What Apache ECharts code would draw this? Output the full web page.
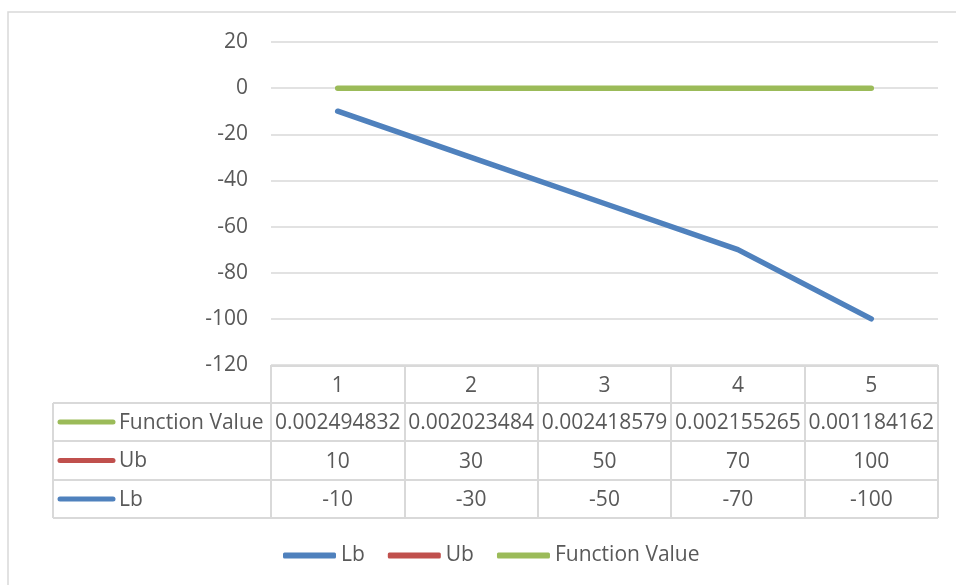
<!DOCTYPE html>
<html style="height:100%;">
<head>
    <meta charset="utf-8">
    <script src="https://cdn.jsdelivr.net/npm/echarts@6/dist/echarts.min.js"></script>
</head>
<body style="height:100%;margin:0;">
    <div id="main" style="width:956px;height:585px;"></div>
<script>
    // 数据
    var categories = ['1', '2', '3', '4', '5'];
    var lbData = [-10, -30, -50, -70, -100];
    var ubData = [10, 30, 50, 70, 100];
    var fvData = [0.002494832, 0.002023484, 0.002418579, 0.002155265, 0.001184162];
    var yTicks = {min: -120, max: 20, interval: 20};

    var txt = '#595959';
    var border = '#d9d9d9';
    var font = 'Open Sans';
    var fs = 21;
    var colors = {Lb: '#4f81bd', Ub: '#c0504d', 'Function Value': '#9bbb59'};

    // 表格（绘图区下方）
    var gridL = 271, gridR = 938, gridB = 365;
    var tabL = 53;
    var rowY = [366, 403, 441, 480, 518];
    var rowNames = ['Function Value', 'Ub', 'Lb'];

    function tableGraphics() {
        var g = [];
        // 外框
        g.push({type: 'rect', shape: {x: 8, y: 12, width: 1000, height: 700},
            style: {fill: null, stroke: border, lineWidth: 1.5}, silent: true});
        g.push({type: 'line', shape: {x1: gridL, y1: rowY[0], x2: gridR, y2: rowY[0]},
            style: {stroke: border, lineWidth: 2}});
        for (var i = 1; i < rowY.length; i++) {
            g.push({type: 'line', shape: {x1: tabL, y1: rowY[i], x2: gridR, y2: rowY[i]},
                style: {stroke: border, lineWidth: 2}});
        }
        g.push({type: 'line', shape: {x1: tabL, y1: rowY[1], x2: tabL, y2: rowY[4]},
            style: {stroke: border, lineWidth: 2}});
        rowNames.forEach(function (n, k) {
            var cy = (rowY[k + 1] + rowY[k + 2]) / 2;
            g.push({type: 'line', shape: {x1: 60, y1: cy, x2: 113, y2: cy},
                style: {stroke: colors[n], lineWidth: 5, lineCap: 'round'}});
            g.push({type: 'text', x: 119, y: cy + 1, style: {text: n, fill: txt,
                font: fs + 'px "' + font + '"', textVerticalAlign: 'middle'}});
        });
        return g;
    }

    function rowAxis(data, offset) {
        return {
            type: 'category', data: data, position: 'bottom', offset: offset,
            axisLine: {show: false, onZero: false}, axisTick: {show: false}, splitLine: {show: false},
            axisLabel: {color: txt, fontSize: fs, fontFamily: font, margin: 10, interval: 0}
        };
    }

    var chart = echarts.init(document.getElementById('main'));
    var option = {
        backgroundColor: '#FFFFFF',
        animation: false,
        color: [colors.Lb, colors.Ub, colors['Function Value']],
        grid: {left: gridL, right: 956 - gridR, top: 42, bottom: 585 - gridB, containLabel: false},
        legend: {
            left: 278, top: 540,
            icon: 'roundRect', itemWidth: 53, itemHeight: 6, itemGap: 23,
            textStyle: {color: txt, fontSize: fs, fontFamily: font},
            data: [
                {name: 'Lb'},
                {name: 'Ub', itemStyle: {opacity: 1}, lineStyle: {opacity: 1}},
                {name: 'Function Value'}
            ]
        },
        xAxis: [
            {
                type: 'category', data: categories, boundaryGap: true, position: 'bottom',
                axisLine: {show: false, onZero: false},
                axisTick: {show: true, inside: false, length: rowY[4] - gridB,
                    lineStyle: {color: border, width: 2}},
                axisLabel: {color: txt, fontSize: fs, fontFamily: font, margin: 11}
            },
            rowAxis(fvData.map(String), 38),
            rowAxis(ubData.map(String), 77),
            rowAxis(lbData.map(String), 115)
        ],
        yAxis: {
            type: 'value', min: yTicks.min, max: yTicks.max, interval: yTicks.interval,
            axisLine: {show: false}, axisTick: {show: false},
            axisLabel: {color: txt, fontSize: fs, fontFamily: font, margin: 23},
            splitLine: {lineStyle: {color: border, width: 1.5}}
        },
        series: [
            {name: 'Lb', type: 'line', data: lbData, symbol: 'none',
                lineStyle: {width: 5.5, cap: 'round', join: 'round', color: colors.Lb},
                itemStyle: {color: colors.Lb}},
            {name: 'Ub', type: 'line', data: ubData, symbol: 'none',
                lineStyle: {width: 5.5, opacity: 0, color: colors.Ub},
                itemStyle: {color: colors.Ub}},
            {name: 'Function Value', type: 'line', data: fvData, symbol: 'none',
                lineStyle: {width: 5.5, cap: 'round', color: colors['Function Value']},
                itemStyle: {color: colors['Function Value']}}
        ],
        graphic: tableGraphics()
    };
    chart.setOption(option);
</script>
</body>
</html>
